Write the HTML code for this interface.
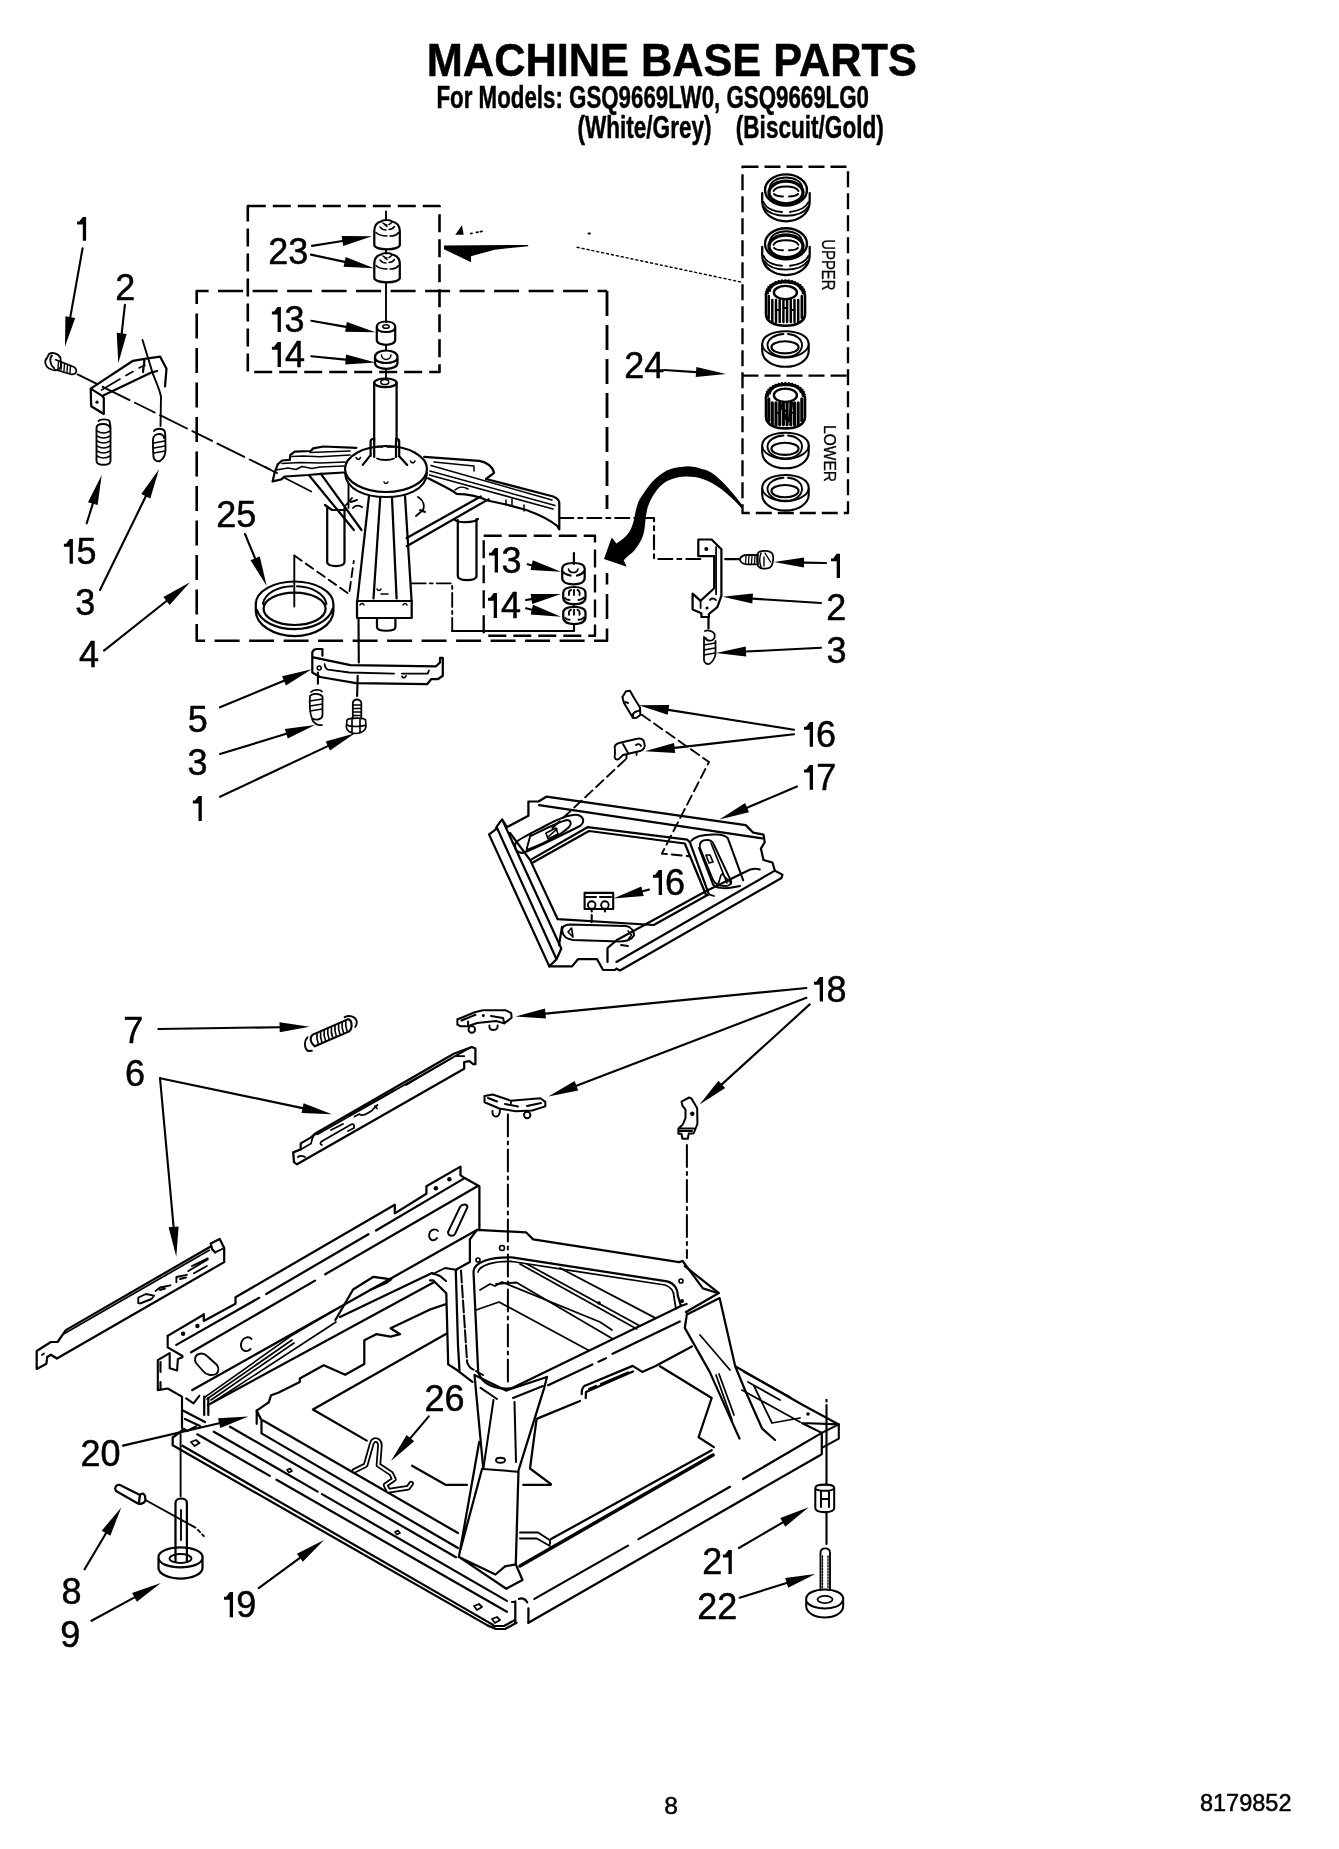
<!DOCTYPE html>
<html><head><meta charset="utf-8"><style>
html,body{margin:0;padding:0;background:#fff;}
body{width:1339px;height:1849px;overflow:hidden;}
svg{position:absolute;left:0;top:0;will-change:transform;}
svg text{font-family:"Liberation Sans",sans-serif;fill:#000;stroke:#000;stroke-width:0.5px;}
.f{fill:#000;stroke:none;}
</style></head><body>
<svg width="1339" height="1849" viewBox="0 0 1339 1849" fill="none" stroke="#000" stroke-width="2.24" stroke-linejoin="round" stroke-linecap="round">
<path class="f" d="M82.8,217.1H86.1V240.8H82.8V224.4H77.1V221.6H79.3Z"/>
<text x="115.3" y="299.9" font-size="36">2</text>
<text x="268.2" y="264.0" font-size="36">23</text>
<path class="f" d="M277.6,306.9H280.9V331.9H277.6V314.6H271.9V311.6H274.1Z"/>
<text x="284.4" y="331.9" font-size="36">3</text>
<path class="f" d="M277.6,341.9H280.9V367.0H277.6V349.7H271.9V346.7H274.1Z"/>
<text x="285.0" y="367.0" font-size="36">4</text>
<text x="624.3" y="377.9" font-size="36">24</text>
<text x="216.3" y="526.9" font-size="36">25</text>
<path class="f" d="M69.6,539.1H72.9V563.7H69.6V546.7H63.9V543.8H66.1Z"/>
<text x="76.5" y="563.7" font-size="36">5</text>
<text x="75.3" y="614.8" font-size="36">3</text>
<text x="79.1" y="667.1" font-size="36">4</text>
<path class="f" d="M494.7,548.0H498.0V572.5H494.7V555.6H489.0V552.7H491.2Z"/>
<text x="501.5" y="572.5" font-size="36">3</text>
<path class="f" d="M493.7,593.1H497.0V617.9H493.7V600.8H488.0V597.8H490.2Z"/>
<text x="501.1" y="617.9" font-size="36">4</text>
<path class="f" d="M836.7,553.8H840.0V578.1H836.7V561.3H831.0V558.4H833.2Z"/>
<text x="826.3" y="620.0" font-size="36">2</text>
<text x="826.5" y="662.9" font-size="36">3</text>
<text x="187.7" y="731.8" font-size="36">5</text>
<text x="187.6" y="774.7" font-size="36">3</text>
<path class="f" d="M198.5,795.9H201.8V820.9H198.5V803.6H192.8V800.6H195.0Z"/>
<path class="f" d="M809.7,722.1H813.0V746.7H809.7V729.7H804.0V726.8H806.2Z"/>
<text x="816.1" y="746.7" font-size="36">6</text>
<path class="f" d="M809.7,764.9H813.0V789.7H809.7V772.6H804.0V769.6H806.2Z"/>
<text x="816.3" y="789.7" font-size="36">7</text>
<path class="f" d="M658.7,870.0H662.0V894.9H658.7V877.7H653.0V874.7H655.2Z"/>
<text x="665.1" y="894.9" font-size="36">6</text>
<path class="f" d="M819.7,977.1H823.0V1001.5H819.7V984.7H814.0V981.7H816.2Z"/>
<text x="826.5" y="1001.5" font-size="36">8</text>
<text x="123.3" y="1042.8" font-size="36">7</text>
<text x="125.1" y="1085.8" font-size="36">6</text>
<text x="80.4" y="1465.8" font-size="36">20</text>
<text x="424.4" y="1411.0" font-size="36">26</text>
<text x="61.5" y="1603.8" font-size="36">8</text>
<text x="60.2" y="1646.8" font-size="36">9</text>
<path class="f" d="M229.7,1591.9H233.0V1617.3H229.7V1599.8H224.0V1596.7H226.2Z"/>
<text x="236.3" y="1617.3" font-size="36">9</text>
<text x="702.3" y="1574.0" font-size="36">2</text>
<path class="f" d="M728.5,1549.9H731.8V1574.0H728.5V1557.4H722.8V1554.5H725.0Z"/>
<text x="697.3" y="1618.9" font-size="36">22</text>
<text x="426.8" y="75.8" font-size="45.4" font-weight="bold" textLength="490" lengthAdjust="spacingAndGlyphs">MACHINE BASE PARTS</text>
<text x="436.5" y="108.3" font-size="31.5" font-weight="bold" textLength="432.5" lengthAdjust="spacingAndGlyphs">For Models: GSQ9669LW0, GSQ9669LG0</text>
<text x="577.5" y="137.6" font-size="31.5" font-weight="bold" textLength="134" lengthAdjust="spacingAndGlyphs">(White/Grey)</text>
<text x="735.8" y="137.6" font-size="31.5" font-weight="bold" textLength="148" lengthAdjust="spacingAndGlyphs">(Biscuit/Gold)</text>
<text x="664.2" y="1813.6" font-size="24.6" textLength="13.7" lengthAdjust="spacingAndGlyphs">8</text>
<text x="1199.9" y="1810.8" font-size="24.4" textLength="91.6" lengthAdjust="spacingAndGlyphs">8179852</text>
<rect x="247.8" y="206" width="191.7" height="166" stroke-width="2.60" stroke-dasharray="18 7" stroke-linecap="butt"/>
<path d="M607,291H196.7V640.7H607V573" stroke-width="2.60" stroke-dasharray="25 9.5" stroke-dashoffset="15.6" stroke-linecap="butt"/>
<path d="M607,291V509" stroke-width="2.83" stroke-dasharray="25 9" stroke-linecap="butt"/>
<rect x="483.7" y="535.7" width="111.3" height="100" stroke-width="2.36" stroke-dasharray="18 7" stroke-linecap="butt"/>
<path d="M742.5,166.7H848V513H742.5Z M742.5,375.6H848" stroke-width="2.36" stroke-dasharray="16 6" stroke-linecap="butt"/>
<line x1="82.6" y1="248.3" x2="70.3" y2="317.1" stroke-width="2.12"/>
<polygon class="f" points="65.4,316.2 65.0,346.6 75.2,318.0"/>
<line x1="124.9" y1="304.9" x2="121.7" y2="333.4" stroke-width="2.12"/>
<polygon class="f" points="116.7,332.8 118.3,363.2 126.6,334.0"/>
<line x1="312.0" y1="245.9" x2="342.4" y2="241.0" stroke-width="2.12"/>
<polygon class="f" points="343.2,246.0 372.0,236.3 341.6,236.1"/>
<line x1="311.0" y1="254.6" x2="344.7" y2="261.9" stroke-width="2.12"/>
<polygon class="f" points="343.6,266.8 374.0,268.3 345.7,257.0"/>
<line x1="311.3" y1="320.7" x2="346.0" y2="326.9" stroke-width="2.12"/>
<polygon class="f" points="345.1,331.8 375.5,332.2 346.9,322.0"/>
<line x1="311.3" y1="356.2" x2="345.6" y2="359.6" stroke-width="2.12"/>
<polygon class="f" points="345.2,364.5 375.5,362.5 346.1,354.6"/>
<line x1="664.0" y1="370.0" x2="696.1" y2="372.1" stroke-width="2.12"/>
<polygon class="f" points="695.7,377.1 726.0,374.0 696.4,367.1"/>
<line x1="245.0" y1="534.0" x2="255.1" y2="558.3" stroke-width="2.12"/>
<polygon class="f" points="250.5,560.2 266.7,586.0 259.8,556.4"/>
<line x1="86.7" y1="523.3" x2="92.8" y2="503.7" stroke-width="2.12"/>
<polygon class="f" points="97.6,505.1 101.7,475.0 88.0,502.2"/>
<line x1="100.0" y1="590.0" x2="145.8" y2="496.3" stroke-width="2.12"/>
<polygon class="f" points="150.3,498.4 159.0,469.3 141.3,494.1"/>
<line x1="104.0" y1="650.7" x2="166.5" y2="601.0" stroke-width="2.12"/>
<polygon class="f" points="169.6,604.9 190.0,582.3 163.4,597.1"/>
<line x1="527.7" y1="564.3" x2="531.7" y2="565.2" stroke-width="2.12"/>
<polygon class="f" points="530.6,570.1 561.0,571.7 532.8,560.3"/>
<line x1="526.0" y1="600.0" x2="531.4" y2="599.1" stroke-width="2.12"/>
<polygon class="f" points="532.3,604.0 561.0,594.0 530.6,594.1"/>
<line x1="526.0" y1="608.3" x2="531.8" y2="609.7" stroke-width="2.12"/>
<polygon class="f" points="530.7,614.6 561.0,616.7 533.0,604.8"/>
<line x1="826.0" y1="563.0" x2="804.0" y2="562.6" stroke-width="2.12"/>
<polygon class="f" points="804.1,557.6 774.0,562.0 803.9,567.6"/>
<line x1="821.0" y1="603.0" x2="752.6" y2="598.6" stroke-width="2.12"/>
<polygon class="f" points="753.0,593.6 722.7,596.7 752.3,603.6"/>
<line x1="821.0" y1="647.7" x2="746.0" y2="651.5" stroke-width="2.12"/>
<polygon class="f" points="745.7,646.5 716.0,653.0 746.2,656.5"/>
<line x1="220.0" y1="707.3" x2="284.0" y2="680.8" stroke-width="2.12"/>
<polygon class="f" points="285.9,685.4 311.7,669.3 282.1,676.2"/>
<line x1="220.0" y1="754.0" x2="286.3" y2="733.8" stroke-width="2.12"/>
<polygon class="f" points="287.8,738.5 315.0,725.0 284.8,729.0"/>
<line x1="220.0" y1="796.7" x2="327.8" y2="746.1" stroke-width="2.12"/>
<polygon class="f" points="330.0,750.6 355.0,733.3 325.7,741.5"/>
<line x1="794.0" y1="729.7" x2="668.4" y2="709.9" stroke-width="2.12"/>
<polygon class="f" points="669.2,704.9 638.8,705.2 667.7,714.8"/>
<line x1="794.0" y1="734.2" x2="674.6" y2="747.9" stroke-width="2.12"/>
<polygon class="f" points="674.0,742.9 644.8,751.3 675.2,752.9"/>
<line x1="797.0" y1="786.5" x2="747.0" y2="807.7" stroke-width="2.12"/>
<polygon class="f" points="745.1,803.1 719.4,819.4 749.0,812.3"/>
<line x1="649.0" y1="889.6" x2="642.5" y2="891.2" stroke-width="2.12"/>
<polygon class="f" points="641.3,886.4 613.4,898.5 643.7,896.1"/>
<line x1="806.4" y1="988.0" x2="545.5" y2="1013.6" stroke-width="2.12"/>
<polygon class="f" points="545.0,1008.6 515.6,1016.5 545.9,1018.6"/>
<line x1="806.4" y1="997.8" x2="576.4" y2="1085.7" stroke-width="2.12"/>
<polygon class="f" points="574.6,1081.0 548.4,1096.4 578.2,1090.4"/>
<line x1="809.7" y1="1004.4" x2="721.8" y2="1084.4" stroke-width="2.12"/>
<polygon class="f" points="718.4,1080.7 699.6,1104.6 725.2,1088.1"/>
<line x1="158.4" y1="1029.0" x2="279.6" y2="1027.2" stroke-width="2.12"/>
<polygon class="f" points="279.7,1032.2 309.6,1026.7 279.5,1022.2"/>
<line x1="160.1" y1="1078.2" x2="302.5" y2="1108.1" stroke-width="2.12"/>
<polygon class="f" points="301.5,1113.0 331.9,1114.3 303.6,1103.2"/>
<line x1="160.0" y1="1078.0" x2="173.6" y2="1226.8" stroke-width="2.12"/>
<polygon class="f" points="168.6,1227.3 176.3,1256.7 178.6,1226.4"/>
<line x1="123.0" y1="1445.6" x2="219.2" y2="1423.2" stroke-width="2.12"/>
<polygon class="f" points="220.3,1428.1 248.4,1416.4 218.0,1418.3"/>
<line x1="428.8" y1="1416.4" x2="410.4" y2="1438.1" stroke-width="2.12"/>
<polygon class="f" points="406.6,1434.9 391.0,1461.0 414.2,1441.3"/>
<line x1="84.6" y1="1569.3" x2="106.0" y2="1533.3" stroke-width="2.12"/>
<polygon class="f" points="110.3,1535.8 121.3,1507.5 101.7,1530.7"/>
<line x1="91.5" y1="1620.8" x2="134.5" y2="1597.4" stroke-width="2.12"/>
<polygon class="f" points="136.9,1601.8 160.8,1583.0 132.1,1593.0"/>
<line x1="258.7" y1="1588.2" x2="299.9" y2="1557.8" stroke-width="2.12"/>
<polygon class="f" points="302.8,1561.8 324.0,1540.0 296.9,1553.8"/>
<line x1="738.9" y1="1548.0" x2="782.8" y2="1522.4" stroke-width="2.12"/>
<polygon class="f" points="785.3,1526.7 808.7,1507.3 780.3,1518.1"/>
<line x1="739.7" y1="1597.7" x2="786.7" y2="1582.9" stroke-width="2.12"/>
<polygon class="f" points="788.2,1587.7 815.3,1573.9 785.2,1578.1"/>
<g transform="translate(0,0)"><path d="M374.3,231 C374.3,226 377,222.5 381,221.5 C382,220.5 384,220 386.5,220 C389,220 391,220.5 392,221.5 C396.5,222.5 399.8,226 399.8,231 V245 C399.8,247.5 394,249.3 387,249.3 C380,249.3 374.3,247.5 374.3,245 Z"/><path d="M376,232.5 C379,235.5 383,236 387,236 M390,236 C393,236 397,235 398.5,232.5 M380,227 C382,229.5 384,230 386,230 M389,229.5 C391,229.5 393,228.5 394.5,226.5 M383,223 C384.5,224.5 386,225 387,225 M389,224.5 C390,224 391,223.5 391.5,222.5" stroke-width="1.53"/><path d="M385,225 L387,226.5" stroke-width="1.53"/></g>
<g transform="translate(0,33)"><path d="M374.3,231 C374.3,226 377,222.5 381,221.5 C382,220.5 384,220 386.5,220 C389,220 391,220.5 392,221.5 C396.5,222.5 399.8,226 399.8,231 V245 C399.8,247.5 394,249.3 387,249.3 C380,249.3 374.3,247.5 374.3,245 Z"/><path d="M376,232.5 C379,235.5 383,236 387,236 M390,236 C393,236 397,235 398.5,232.5 M380,227 C382,229.5 384,230 386,230 M389,229.5 C391,229.5 393,228.5 394.5,226.5 M383,223 C384.5,224.5 386,225 387,225 M389,224.5 C390,224 391,223.5 391.5,222.5" stroke-width="1.53"/><path d="M385,225 L387,226.5" stroke-width="1.53"/></g>
<path d="M386,211.5V220 M386,249.5V253.5 M386,282.5V322 M386,345V350 M386,369V378" stroke-width="1.89"/>
<path d="M376.8,327 C376.8,323.5 381,321.5 386,321.5 C391,321.5 395.2,323.5 395.2,327 V340 C395.2,343 391,344.8 386,344.8 C381,344.8 376.8,343 376.8,340 Z M376.8,327 C376.8,330.5 381,332 386,332 C391,332 395.2,330.5 395.2,327"/>
<ellipse cx="386" cy="326.5" rx="3.2" ry="1.8" stroke-width="1.53"/>
<path d="M375,357 C375,353 380,350.5 386.2,350.5 C392.5,350.5 397.5,353 397.5,357 V363 C397.5,366.5 392.5,368.8 386.2,368.8 C380,368.8 375,366.5 375,363 Z M375,357.5 C375,361 380,363 386.2,363 C392.5,363 397.5,361 397.5,357.5"/>
<path d="M381.5,355 C382,358.5 384,359.5 386.2,359.5 C388.5,359.5 390.5,358.5 391,355" stroke-width="1.53"/>
<path d="M374.2,383 V441 M396.6,383 V441"/>
<ellipse cx="385.4" cy="382.8" rx="11.2" ry="4.3"/>
<ellipse cx="384.8" cy="382" rx="4" ry="2.6" stroke-width="1.53"/>
<path d="M370.6,456 V441.5 C370.6,439.5 372,438.8 374.2,438.9 M396,438.9 C398,438.8 399.2,439.5 399.2,441.5 V456.5 M374.2,441 V457 M396,441 V457 M370.4,455.4 L362.8,464.9 M399,456 L407.2,464.9"/>
<path d="M375.5,446.8 H382.5 M387,446.8 H394.5 M377,458.5 C381,460.5 390,460.5 394,458.5" stroke-width="1.77"/>
<path d="M356,457.5 C357,460 359.5,460 360.5,457.5 M410.5,461 C411.5,463.5 414,463.5 415,461" stroke-width="1.65"/>
<ellipse cx="386" cy="469" rx="41" ry="23"/>
<path d="M345,473 C346,490 366,497 386,497 C406,497 426,490 427,473" stroke-width="2.12"/>
<path d="M384,482 C385,484 387,484 388,482" stroke-width="1.53"/>
<path d="M369,496 L357.3,601 M405,496 L411.6,601 M380.2,498 L373.5,598.5 M392,498 L396.6,598.5"/>
<path d="M357,601 H411.7 V618 H357 Z" />
<path d="M377,618 V627 C377,632 395.4,632 395.4,627 V618"/>
<path d="M360,605 C361,603 363,603 364,605 M403,605 C404,603 406,603 407,605 M377,589 C378,591 380,591 381,589 M381,594 H388" stroke-width="1.53"/>
<path d="M343.5,472.5 L320.9,473.8 L308.2,475 L285,476.5 L281,479.5 L272.6,481.4 L274.5,473.2 L277.7,464.3 L282.1,460.5 L289.8,459.8 L290.4,454.8 L294.8,451.6 L310.7,451 L313.2,448.4 L323.4,446.5 L356.4,447.8"/>
<path d="M276,470 L288,468 L296,469.5 L302,466.5 L312,468.5 L320,467 L344,466 M282,463.5 L300,462.5 L320,463 L345,462 M292,456.5 L303,456 L320,456.8 L350,455 M310,452.5 L350,451" stroke-width="1.65"/>
<path d="M274.5,471.9 L265,466.8 M285.3,478.2 L311.3,491.6" stroke-width="1.65"/>
<path d="M309.4,475.7 L353.9,530 M320.9,473.8 L361.5,530" />
<path d="M327.2,508 V562 C327.2,567.5 344.5,567.5 344.5,562 V508 M325,505 L332,510 L346,510"/>
<path d="M348.5,483 V508 M346,505 L352,498 M351,502 L357,500 M353,508 C355,505 358,505 362,507 M418,497 C423,500 425,505 423,510 L416,516 M420,510 L425,512" stroke-width="1.89"/>
<path d="M424.2,456.8 L479.3,460.8 C487,462 493,467 494.1,472.9 L486,479 M486,479 L553.2,496.5 C557,498 559.3,500 559.3,503.2 V529.5 L557.3,526 C550,520 540,515 526.4,510 L506.2,504.5 L487.4,500.5 C480,497 470,494 456.5,493.8 C452,490 445,487 428.2,478.3" />
<path d="M431,465.5 L552,500 M430,471 L555,505.5 M429.5,475 L553,509 M434,462 L474,466 L474,471" stroke-width="1.53"/>
<path d="M455,490 C458,487 463,486 468,489 M506,500 V505 M512,499 V506 M524,505 V511" stroke-width="1.53"/>
<path d="M406.7,538.1 L480.7,496.5 M406.7,546.2 L488.7,499.1"/>
<path d="M457.8,520 V576 C457.8,581.5 476.5,581.5 476.5,576 V519 M455,520 C458,523 474,523 478,519"/>
<path d="M559.3,518 H654 V559 H702" stroke-width="2.12" stroke-dasharray="14 5 4 5"/>
<path d="M47,358 C44,361 45,366 49,368.5 L53,370 C57,371 60,369 61,366 L60.5,358 C58,353 52,352 49,354 Z" stroke-width="1.77"/>
<path d="M52,355.5 C49,358 50,365 54,368 M55.7,359.8 L73.5,366.8 C76,368 77,371 76,372.5 C75,374 73,374.5 71.4,374.4 L55,369.5" stroke-width="1.77"/>
<path d="M58.5,362 L58,368.5 M61.5,363 L61,369.5 M64.5,364 L64,370.5 M67.5,365 L67,371.5 M70.5,366 L70,372.5" stroke-width="1.42"/>
<path d="M77.6,374.4 L277,473" stroke-width="1.89" stroke-dasharray="22 6 30 6"/>
<path d="M90.7,388.6 L91.2,406.3 L103.8,414 L103.8,398 L102.2,395.9 Z M90.7,388.6 L133,360.8 L144.6,358.8 L160.2,356.7 L166.5,368.7 L165,386.5 M102.2,395.9 L151.9,372.3 L157,371 M144.6,358.8 L143,372"/>
<path d="M101.5,390 L120,379 M126,375.5 L133,371.5 M139,368 L145,365" stroke-width="1.65"/>
<circle cx="97" cy="402.2" r="1.6" class="f"/>
<path d="M142.5,340 L152.9,373.9 C156,382 160,390 161,397 L160.5,426" stroke-width="1.89"/>
<path d="M98.5,421 C100,418.8 108,418.8 109.5,421 L110.5,427 V461 C110.5,466 96.5,466 96.5,461 V428 C96.5,425 99,424 103,424 C107,424 110,426 110,428" stroke-width="1.89"/>
<path d="M97,431 C101,433.5 106,433.5 110,431 M97,436 C101,438.5 106,438.5 110,436 M97,441 C101,443.5 106,443.5 110,441 M97,446 C101,448.5 106,448.5 110,446 M97,451 C101,453.5 106,453.5 110,451 M97,456 C101,458.5 106,458.5 110,456" stroke-width="1.53"/>
<path d="M154,431 C156,428 163,428 164.5,431 C166,434 165,440 165.5,446 C166,452 165,458 160,461 C157,462 154,460 153.5,457 C153,452 153,446 153,440 C153,436 156,434 159,434 C162,434 164,436 164,438" stroke-width="1.89"/>
<path d="M154,443 L164.5,441 M154,448 L165,446 M154,453 L165,451" stroke-width="1.53"/>
<path d="M698.3,539.5 H711.6 L721.4,549.3 V595.9 L717.3,607.2 L708.9,614 V617 H701.4 V613.3 L692.6,609.5 V593.6 L700.6,600.8 L714.2,588.3 V556.1 H698.3 Z"/>
<path d="M716.1,547 V594.3 M700.6,600.8 V608 M710,600 C711,598 714,598 716,600" stroke-width="1.77"/>
<circle cx="706.3" cy="548.9" r="2" class="f"/><circle cx="707" cy="608" r="1.6" class="f"/>
<path d="M708.5,617 V628.4"/>
<path d="M725.2,559.1 H739.6"/>
<path d="M739.6,559.5 C741,556 744,555 747,555 H757.8 V564.4 H747 C744,564.4 741,563 739.6,559.5 Z" stroke-width="1.77"/>
<path d="M746,556 L745.5,563.5 M749,556 L748.5,563.5 M752,556 L751.5,563.5 M755,556 L754.5,563.5" stroke-width="1.30"/>
<path d="M758,553 C760,550 770,550 772.5,554 C774,558 773,565 770,567.5 C766,569.5 760,569 758,566 C757,562 757,556 758,553 Z" stroke-width="1.77"/>
<path d="M761,553 C759.5,557 759.5,563 761,567 M765,553 L770.5,562 M764,557 L764,566" stroke-width="1.42"/>
<path d="M705,631 C708,629.5 713,631 714.5,634 C715.5,637 714,640 711.5,640.5 C709,641 706.5,640 705.5,638 M704,637 V660 C704,663 707,664.5 709,664 C712,663 715,658 715.5,654 V641" stroke-width="1.77"/>
<path d="M704,645 L715,643 M704,650 L715,648 M704,655 L715,653" stroke-width="1.42"/>
<path d="M312.3,672.5 V652.3 C313,650 315,649 317,649 H322.4 V655.7 M313.4,657.4 L350.4,665.2 L436.1,666.3 L440,662.4 V657.9 H442.8 V675.8 L437.8,679.2 H431.1 L427.1,684.2 L356,683.1 L320.2,677 L312.3,672.5"/>
<path d="M324.6,664.1 C325,667 326,669 328,669.7 L349.3,672.5 L394.1,673.6 M401.9,673.6 H427.7 L429,670.5 M402,676.5 C403,678.5 405,678 406,676" stroke-width="1.77"/>
<circle cx="319.2" cy="668" r="2" stroke-width="1.53"/>
<path d="M358.5,618 L358.8,662.4 M357.7,675.8 L357.1,696 M317.9,672.5 V683.7" stroke-width="2.12"/>
<path d="M311,692 C313,689.5 320,689 322,691.5 M310,696 C312,693 320,693 322.5,696.5 V715 C322.5,719 317,721 312.5,718.5 C309.5,716 309.5,700 310,696 M312,719 C313,723 318,726 322,725" stroke-width="1.77"/>
<path d="M310,701 L322.5,699 M310,706 L322.5,704 M310,711 L322.5,709" stroke-width="1.42"/>
<path d="M352.8,718.5 V702.5 C353.5,700.5 355,699.5 357,699.5 C359,699.5 360.5,700.5 361.3,702.5 V718.5" stroke-width="1.77"/>
<path d="M353,705 H361 M353,708.5 H361 M353,712 H361 M353,715.5 H361" stroke-width="1.30"/>
<path d="M347,720 C349,717.5 364,717.5 365.5,720 L366,726 C366,731 360,733.5 356,733.5 C351,733.5 346.5,731 346.3,727 Z M347,725 C350,727 362,727 365.5,725 M352,718 V733 M360,718 V733" stroke-width="1.65"/>
<path d="M255.8,604 C256,591 274,581.5 294.6,581.5 C315,581.5 333.2,591 333.4,604 V611 C333.2,625 315,636.1 294.6,636.1 C274,636.1 256,625 255.8,611 Z"/>
<path d="M257,610 C260,621 276,629.2 294.6,629.2 C313,629.2 329,621 332.5,609"/>
<ellipse cx="294.6" cy="608.8" rx="31" ry="16.2"/>
<path d="M263,604 C264.5,593.5 278,586.4 292.5,586.2 M297,586.2 C311,586.5 325,593.5 326.4,604" stroke-width="2.01"/>
<path d="M294.3,606.6 V555.6" stroke-width="1.89"/>
<path d="M294.3,555.6 L349.1,594 L353.8,561" stroke-width="1.89" stroke-dasharray="9 5"/>
<path d="M411.7,583.4 H452.2 V631" stroke-width="1.89" stroke-dasharray="14 4 3 4"/>
<path d="M573.9,553 V564"/>
<path d="M562.2,569 C562.2,565 567,563 573.5,563 C580,563 584.7,565 584.7,569 V578 C584.7,582 580,584.3 573.5,584.3 C567,584.3 562.2,582 562.2,578 Z M562.2,571 C564,574 568,575 570.5,575.5 M577,575.5 C580,575 583,573 584.7,571" />
<path d="M568.5,569 C569,572 571,572.5 573.5,572.5 C576,572.5 577.5,571.5 578,569" stroke-width="1.65"/>
<path d="M563.2,593.0 C563.2,588.5 568,587.0 574.2,587.0 C580.5,587.0 585.5,589.0 585.5,593.0 V597.0 C585.5,602.0 580.5,604.2 574.2,604.2 C568,604.2 563.2,602.0 563.2,597.0 Z" />
<path d="M569,595.0 C568.5,592.0 569.5,590.5 571,590.0 M579.5,595.0 C580,592.0 579,590.5 577.5,590.0 M574,590.0 V595.0 M565,598.0 C566,599.5 568,600.0 569.5,600.0 M578.5,600.0 C580.5,600.0 582.5,599.0 584,597.5" stroke-width="1.89"/>
<path d="M563.2,612.8 C563.2,608.3 568,606.8 574.2,606.8 C580.5,606.8 585.5,608.8 585.5,612.8 V616.8 C585.5,621.8 580.5,624.0 574.2,624.0 C568,624.0 563.2,621.8 563.2,616.8 Z" />
<path d="M569,614.8 C568.5,611.8 569.5,610.3 571,609.8 M579.5,614.8 C580,611.8 579,610.3 577.5,609.8 M574,609.8 V614.8 M565,617.8 C566,619.3 568,619.8 569.5,619.8 M578.5,619.8 C580.5,619.8 582.5,618.8 584,617.3" stroke-width="1.89"/>
<path d="M574,604.2 V606.8 M574,624 V631 H452.2" stroke-width="2.12"/>
<g transform="translate(0,0)"><ellipse cx="786" cy="190" rx="21" ry="15.6" stroke-width="2.36"/><path d="M769.5,189 C770,181 778,177.5 786,177.5 C794,177.5 802,181 802.5,189" stroke-width="1.89"/><ellipse cx="786" cy="192.5" rx="17" ry="11.3" stroke-width="3.30"/><path d="M773.5,191 C775,188 780,186.5 786,186.5 C792,186.5 797,188 798.5,191 M774,194 C776,196 780,196.5 783,196.5 M789,196.5 C792,196.5 796,196 798,194" stroke-width="1.89"/><path d="M762.2,193 V202 C762.5,214 774,221.3 786,221.3 C798,221.3 809.5,214 809.7,202 V193" stroke-width="2.24"/><path d="M763.5,202 C766,209 776,212 782,212 M790,212 C797,211 806,208 808.5,202 M764,207 C768,213 777,215.8 786,215.8 C795,215.8 804,213 808,207" stroke-width="1.89"/></g>
<g transform="translate(0,53.8)"><ellipse cx="786" cy="190" rx="21" ry="15.6" stroke-width="2.36"/><path d="M769.5,189 C770,181 778,177.5 786,177.5 C794,177.5 802,181 802.5,189" stroke-width="1.89"/><ellipse cx="786" cy="192.5" rx="17" ry="11.3" stroke-width="3.30"/><path d="M773.5,191 C775,188 780,186.5 786,186.5 C792,186.5 797,188 798.5,191 M774,194 C776,196 780,196.5 783,196.5 M789,196.5 C792,196.5 796,196 798,194" stroke-width="1.89"/><path d="M762.2,193 V202 C762.5,214 774,221.3 786,221.3 C798,221.3 809.5,214 809.7,202 V193" stroke-width="2.24"/><path d="M763.5,202 C766,209 776,212 782,212 M790,212 C797,211 806,208 808.5,202 M764,207 C768,213 777,215.8 786,215.8 C795,215.8 804,213 808,207" stroke-width="1.89"/></g>
<g transform="translate(0,0)"><path d="M766,297 L765.9,294.0 L767.9,292.9 L766.2,291.7 L768.4,290.9 L767.1,289.4 L769.5,288.9 L768.5,287.2 L771.0,287.0 L770.5,285.3 L773.0,285.4 L772.9,283.7 L775.3,284.0 L775.6,282.3 L778.0,283.0 L778.7,281.3 L780.9,282.3 L782.0,280.7 L783.9,281.9 L785.4,280.5 L786.9,281.9 L788.8,280.7 L789.9,282.3 L792.1,281.3 L792.8,283.0 L795.1,282.3 L795.5,284.0 L797.9,283.7 L797.8,285.4 L800.3,285.3 L799.8,287.0 L802.3,287.2 L801.3,288.9 L803.7,289.4 L802.4,290.9 L804.6,291.7 L802.9,292.9 L804.9,294.0 L805,297 V314 C805,321.5 797,325.7 785.4,325.7 C774,325.7 766,321.5 766,314 Z" stroke-width="2.60"/><ellipse cx="785.4" cy="292.6" rx="11.5" ry="6.7" stroke-width="2.36"/><path d="M770,291 C771,285 777,282.5 785.4,282.5 C794,282.5 800,285 801,291" stroke-width="1.89" stroke-dasharray="2 1.5"/><path d="M768.8,296 V318" stroke-width="2.48"/><path d="M772.3,300 V322" stroke-width="2.48"/><path d="M776,300 V322" stroke-width="2.48"/><path d="M779.7,300 V322" stroke-width="2.48"/><path d="M783.4,300 V322" stroke-width="2.48"/><path d="M787.1,300 V322" stroke-width="2.48"/><path d="M790.8,300 V322" stroke-width="2.48"/><path d="M794.5,300 V322" stroke-width="2.48"/><path d="M798.2,300 V322" stroke-width="2.48"/><path d="M801.8,296 V318" stroke-width="2.48"/><path d="M776,310 H779.7 M783.4,308 H787.1 M790.8,310 H794.5" stroke-width="2.12"/></g>
<g transform="translate(0,102.7)"><path d="M766,297 L765.9,294.0 L767.9,292.9 L766.2,291.7 L768.4,290.9 L767.1,289.4 L769.5,288.9 L768.5,287.2 L771.0,287.0 L770.5,285.3 L773.0,285.4 L772.9,283.7 L775.3,284.0 L775.6,282.3 L778.0,283.0 L778.7,281.3 L780.9,282.3 L782.0,280.7 L783.9,281.9 L785.4,280.5 L786.9,281.9 L788.8,280.7 L789.9,282.3 L792.1,281.3 L792.8,283.0 L795.1,282.3 L795.5,284.0 L797.9,283.7 L797.8,285.4 L800.3,285.3 L799.8,287.0 L802.3,287.2 L801.3,288.9 L803.7,289.4 L802.4,290.9 L804.6,291.7 L802.9,292.9 L804.9,294.0 L805,297 V314 C805,321.5 797,325.7 785.4,325.7 C774,325.7 766,321.5 766,314 Z" stroke-width="2.60"/><ellipse cx="785.4" cy="292.6" rx="11.5" ry="6.7" stroke-width="2.36"/><path d="M770,291 C771,285 777,282.5 785.4,282.5 C794,282.5 800,285 801,291" stroke-width="1.89" stroke-dasharray="2 1.5"/><path d="M768.8,296 V318" stroke-width="3.07"/><path d="M772.3,300 V322" stroke-width="3.07"/><path d="M776,300 V322" stroke-width="3.07"/><path d="M779.7,300 V322" stroke-width="3.07"/><path d="M783.4,300 V322" stroke-width="3.07"/><path d="M787.1,300 V322" stroke-width="3.07"/><path d="M790.8,300 V322" stroke-width="3.07"/><path d="M794.5,300 V322" stroke-width="3.07"/><path d="M798.2,300 V322" stroke-width="3.07"/><path d="M801.8,296 V318" stroke-width="3.07"/><path d="M776,310 H779.7 M783.4,308 H787.1 M790.8,310 H794.5" stroke-width="2.12"/><path d="M781,302 L786,316 M792,300 L789,318" stroke-width="2.60"/></g>
<g transform="translate(0,0)"><path d="M762.2,344 C762.2,336 773,331.2 785.5,331.2 C798,331.2 808.7,336 808.7,344 V351 C808.7,360 798,366.8 785.5,366.8 C773,366.8 762.2,360 762.2,351 Z" stroke-width="2.12"/><path d="M762.2,345 C763,351 772,357 785.5,357.5 C799,357 808,351 808.7,345" stroke-width="1.89"/><path d="M767.5,345 C767.5,339 775,334.3 783.5,334 M788,334 C796,334.5 802,339 802,345 C802,352 795,357 785.5,357 C776,357 767.5,352 767.5,345" stroke-width="1.89"/><ellipse cx="785" cy="347.3" rx="13.6" ry="6.1" stroke-width="2.12"/></g>
<g transform="translate(0,101.5)"><path d="M762.2,344 C762.2,336 773,331.2 785.5,331.2 C798,331.2 808.7,336 808.7,344 V351 C808.7,360 798,366.8 785.5,366.8 C773,366.8 762.2,360 762.2,351 Z" stroke-width="2.12"/><path d="M762.2,345 C763,351 772,357 785.5,357.5 C799,357 808,351 808.7,345" stroke-width="1.89"/><path d="M767.5,345 C767.5,339 775,334.3 783.5,334 M788,334 C796,334.5 802,339 802,345 C802,352 795,357 785.5,357 C776,357 767.5,352 767.5,345" stroke-width="1.89"/><ellipse cx="785" cy="347.3" rx="13.6" ry="6.1" stroke-width="2.12"/></g>
<g transform="translate(0,143.8)"><path d="M762.2,344 C762.2,336 773,331.2 785.5,331.2 C798,331.2 808.7,336 808.7,344 V351 C808.7,360 798,366.8 785.5,366.8 C773,366.8 762.2,360 762.2,351 Z" stroke-width="2.12"/><path d="M762.2,345 C763,351 772,357 785.5,357.5 C799,357 808,351 808.7,345" stroke-width="1.89"/><path d="M767.5,345 C767.5,339 775,334.3 783.5,334 M788,334 C796,334.5 802,339 802,345 C802,352 795,357 785.5,357 C776,357 767.5,352 767.5,345" stroke-width="1.89"/><ellipse cx="785" cy="347.3" rx="13.6" ry="6.1" stroke-width="2.12"/></g>
<text transform="translate(822.3,239.2) rotate(90)" font-size="17.5" textLength="51.4" lengthAdjust="spacingAndGlyphs" style="stroke-width:0.3px">UPPER</text>
<text transform="translate(823.8,425) rotate(90)" font-size="17" textLength="57" lengthAdjust="spacingAndGlyphs" style="stroke-width:0.3px">LOWER</text>
<path class="f" d="M743.2,506.4 C737,498 730,490 726.4,486.1 C718,477 710,470 702.5,469.3 C696,467 691,466.2 685.8,466.4 C678,466.8 672,468 666.7,470.5 C659,475 653,480 648.8,486.1 C644,493 640,498 638,502.8 C636,509 635,514 634.4,518.3 C633,524 631.5,528 629.7,531.5 C626,537 621,540.5 616.5,543.4 L611.7,537.4 L604,559 L626.7,566.7 L623.7,560.2 C628,556 631.5,553.5 634.4,550.6 C638,546 641,541 642.8,536.3 C644.5,531 645,526 645.2,521.9 C645.8,517 646.5,512 647.6,507.6 C649.5,502 651.5,497.5 654.7,493.2 C658,488 662,484 666.7,481.3 C672,478.5 678,477 684.6,476.5 C691,476.3 697,477 702.5,478.9 C709,481 715,484.5 720.5,488.5 C728,494 735,501 742,508.8 Z"/>
<path class="f" d="M444,245.4 L528.2,245 L528.2,246.2 L494.7,249.7 L471,256.2 L471,262.2 L444,249.2 Z"/>
<path class="f" d="M455.3,234.8 L461.9,225.2 L463.7,234.8 Z"/>
<path d="M470.8,233.5 L472,233.3 M476.5,232.4 L478,232.2 M480.5,231.6 L482,231.3 M588.5,233.5 L590,233.5" stroke-width="1.77"/>
<path d="M577.2,247.3 L741,282" stroke-width="1.42" stroke-dasharray="2 3"/>
<path d="M489,834.4 L495.5,829.6 L496.7,826.6 L502.1,819.4 L506.9,827.2 M489,834.4 L549.3,966.4 L556.5,959.2 M496.7,827.2 L556.5,959.2 M502.1,819.4 L561.3,948.5 L556.5,959.2"/>
<path d="M506.9,827.2 L528.4,815.8 V801.5 H538.5 L546.3,796.7 L745.7,825.1 L753.3,832.7 L763.5,834.6 L764.7,842.2 L760.9,848.6 L763.5,860 L772.4,862.5 L774.9,870.8"/>
<path d="M539.1,805.1 L762.2,838.4"/>
<path d="M510,833 L530.2,860.1 L557.7,919.2 L653.7,925 L708.9,894.3 M530.2,860.1 L587.5,827.2 L687.3,839.7 L689.8,842.2 L708.9,894.3 M532,863 L589,831 L684.8,843.5 L706.3,895.5"/>
<path d="M515.5,843 C514,848 516,852 522,853 C528,852 560,836 580,826 C585,822 584,817 578,815 C572,814 560,818 545,826 C530,834 518,839 515.5,843 Z" stroke-width="2.01"/>
<path d="M526.6,849.3 L531,833 M527,850 C545,843 562,834 569,827 C572,824 571,820 567,820 C560,821 545,829 531,836" stroke-width="1.89"/>
<path d="M546,833 L556,828 L558,834 L548,839 Z M548,837 L557,829" stroke-width="1.65"/>
<path d="M691.1,841 C695,836 705,834 718,834.5 C724,835 727,837 727.9,838.4 L743.2,880.3 M699,848 L713,884.5 C716,888 724,889 732,887.5 L740,886" stroke-width="2.01"/>
<path d="M700,848 C699,842 702,840 707,840 C711,840 713,842 714,845 L731,881 C732,884 729,886 725,886 C718,886 715,884 713,880 Z" stroke-width="1.89"/>
<path d="M706,855 L710,855 L713,862 L709,863 Z M711,843 L727,883 M721,875 L718,885 M722,874 L731,883" stroke-width="1.65"/>
<path d="M774.9,870.8 L782.5,874.6 L781.5,878 L620,970.5 L616.4,968.7 M773.6,871.4 L616.4,962 M759.7,869.5 C755,868 750,869 745,872 L706.3,891 L617,940" stroke-width="2.12"/>
<path d="M708.9,894.3 L714,896 M621,945 L628,946" stroke-width="1.77"/>
<path d="M562.4,931.8 C561,927 565,924.5 570,924.5 L626,926 C631,927 634,931 634.1,935.3 C632,939 627,941.5 620,941.5 L573,940 C567,939 563,936 562.4,931.8 Z" stroke-width="2.01"/>
<path d="M568,932 L571.5,928 L573,937 Z M628,931 L631.5,935 L628.5,939" stroke-width="1.65"/>
<path d="M549.3,966.4 H572 L578,959.2 H597.1 L603.1,970 H615 L616.4,968.7 M559,945 L562,927 M607.5,962 L607.5,948 L617,940"/>
<path d="M584.6,892.9 H613.2 V909 H584.6 Z M586,897 H596 M600,897 H611" stroke-width="2.12"/>
<circle cx="591.7" cy="905" r="3.8" stroke-width="1.89"/><circle cx="604.9" cy="905" r="3.8" stroke-width="1.89"/>
<path d="M591.7,909 V911.5 M604.9,909 V911.5 M591.7,915 V922.2" stroke-width="2.12"/>
<path d="M622.4,697 L626,691.2 L630,690.8 L633.5,697 L640,707.5 L640.3,715 L636.5,717.8 L633,718 L624,703 Z M624,703 C625,702 627,701.8 628,703 M633,718 L633,714 C634,712 637,711 640,710.5" stroke-width="2.01"/>
<path d="M614.9,749 C614,746 616,744 619,743 L636,739 C640,738 643,739 644,741.5 L644.8,746 C644,749.5 641,751 638,751.5 L623,755 C621,757 619.5,759.5 617,759.6 C615,759.4 614,757 615,754 Z M623,744 L628,753 M636,745 C638,743.5 640,744 641,746 M626.5,755.5 V758.5 M636.5,752 V755" stroke-width="1.89"/>
<path d="M641.8,714.8 L709,762 L661.9,853.6 L689.2,856.2" stroke-width="1.89" stroke-dasharray="10 5"/>
<path d="M625.3,759.6 L552.1,828.3" stroke-width="1.89" stroke-dasharray="10 5"/>
<path d="M313.4,1034.4 L347.7,1019.4 M314.9,1046.3 L349.2,1031.4 M313.4,1034.4 C310,1036 309,1042 314.9,1046.3 M347.7,1019.4 C352,1019 353,1028 349.2,1031.4" stroke-width="2.12"/>
<path d="M307.4,1037.3 C304,1041 304,1048 308,1051 L311.9,1050.8 M344.7,1017.2 C349,1015 355,1016 356.7,1020.9 C357,1024 356,1026 355.2,1026.9" stroke-width="1.89"/>
<path d="M317.0,1033.0 C316.5,1037.0 317.5,1042.0 318.5,1044.5" stroke-width="1.65"/>
<path d="M320.6,1031.4 C320.1,1035.4 321.1,1040.4 322.1,1042.9" stroke-width="1.65"/>
<path d="M324.2,1029.8 C323.7,1033.8 324.7,1038.8 325.7,1041.3" stroke-width="1.65"/>
<path d="M327.8,1028.2 C327.3,1032.2 328.3,1037.2 329.3,1039.7" stroke-width="1.65"/>
<path d="M331.4,1026.6 C330.9,1030.6 331.9,1035.6 332.9,1038.1" stroke-width="1.65"/>
<path d="M335.0,1025.0 C334.5,1029.0 335.5,1034.0 336.5,1036.5" stroke-width="1.65"/>
<path d="M338.6,1023.4 C338.1,1027.4 339.1,1032.4 340.1,1034.9" stroke-width="1.65"/>
<path d="M342.2,1021.8 C341.7,1025.8 342.7,1030.8 343.7,1033.3" stroke-width="1.65"/>
<path d="M345.8,1020.2 C345.3,1024.2 346.3,1029.2 347.3,1031.7" stroke-width="1.65"/>
<path d="M314.9,1133.7 L453.8,1053.8 L471.7,1047 L475.4,1048.5 V1064.2 L473.2,1064.2 L469.5,1061.2 L464.2,1062 V1068.7 L297,1164.3 L294,1162.1 L293.2,1152.4 L300.7,1149.4 V1143.4 L311.1,1137.4 Z"/>
<path d="M317.1,1134.4 L455.3,1056 L471.7,1047 M455.3,1056 L464.2,1056.2 M300.7,1149.4 L311.1,1143.4 C312,1138 313,1135 316,1134 M298,1157 C300,1155 303,1156 305,1157" stroke-width="1.77"/>
<path d="M321.5,1141.5 L351,1124.5 C352.5,1123.5 354,1124.5 354,1125.5 V1128 L348,1131 M321.5,1141.5 C320,1143 320,1144.5 322,1145 M331,1130 L343,1124 M349,1116 L395,1090 M354.5,1116.5 L359.5,1114 C361,1116 363,1116 368,1113 L372,1110.5 C374,1108 376,1106.5 377.5,1105 M375,1106 L377,1108.5 M406,1085 L452,1058" stroke-width="1.77"/>
<path d="M457.4,1019.3 L461.5,1017.7 L474.7,1012.3 L482.9,1010.3 H505.9 L511.2,1013.1 L511.6,1017.7 L504.2,1023.4 L496,1021 L477.1,1023 L468.1,1026.3 H460.7 L457.4,1024.7 Z M461.5,1020.5 L475.5,1014.8 M468.1,1026.3 V1021.5 M491,1016 L503,1018 M503,1018 L504,1022" stroke-width="2.01"/>
<circle cx="471.8" cy="1029.4" r="3.3" stroke-width="1.89"/><circle cx="483.3" cy="1015.6" r="1.5" class="f"/>
<path d="M489.4,1025.5 C489,1029 491,1030 493.6,1030 C496,1030 497.7,1029 497.7,1025.5" stroke-width="1.89"/>
<path d="M484.5,1096.1 L492.7,1094.5 L510.8,1100.7 L540.4,1098.2 L545.3,1101.9 V1106.4 L532.2,1110.5 L515.7,1111.3 L499.3,1108.5 L484.5,1102.3 Z M488,1098 L497,1101.5 M505,1104 L518,1106.5 M527,1106 L541,1103 M510.8,1100.7 L511,1103" stroke-width="2.01"/>
<path d="M492.5,1111 C492,1115 494,1116.5 496,1116.5 C498,1116.5 500,1115 500,1109" stroke-width="1.89"/><circle cx="527.2" cy="1115" r="3.2" stroke-width="1.89"/>
<path d="M681.5,1101.6 L689.1,1097.5 L691.4,1098.4 L697.2,1108.3 L697.4,1124 L694,1132.5 L693.2,1133.6 H688.7 L687.8,1138.8 H682.4 L681.5,1133.8 H678.4 V1128.5 L682.8,1124.4 L685.5,1118.2 V1109.6 L682.4,1105.6 Z M678.4,1128.5 H694 M680,1131 H692" stroke-width="2.01"/>
<circle cx="692.3" cy="1113.7" r="2.2" class="f"/>
<path d="M507.9,1114.5 V1386" stroke-width="2.01" stroke-dasharray="22 5 3 5"/>
<path d="M686.9,1145 V1258" stroke-width="2.01" stroke-dasharray="22 5 3 5"/>
<path d="M230.0,1426.7 L456.0,1557.2 M213.8,1431.7 L317.6,1491.6 M322.0,1494.1 L506.9,1600.9 M197.3,1434.3 L269.8,1475.9 M276.5,1479.7 L506.9,1611.8 M182.4,1445.7 L492.6,1624.6 M172.7,1445.3 L488.0,1625.6"/>
<path d="M172.7,1437.5 L184,1429 L187,1431 L196,1426.5 M172.7,1437.5 V1444.8 M488.0,1625.6 L496,1629 H505.1 L516.5,1622.8 M492.6,1624.6 L494,1626 H504 L515,1620"/>
<path d="M191,1442 L196,1440 L199.5,1443 L194.5,1446 Z M474,1606 L479,1604 L482,1607 L477,1610 Z M492,1619 L497,1617 L500,1620 L495,1623 Z" stroke-width="1.77"/>
<path d="M287,1470 L290,1468.5 L292,1471 L289,1472.5 Z M395,1532 L398,1530.5 L400,1533 L397,1534.5 Z" stroke-width="1.65"/>
<path d="M515.3,1601.3 V1622.8 M512,1602 H515.3 M518.9,1598.9 C522,1597.5 526,1599 527.2,1602.4 M528.4,1608.4 V1622.8"/>
<path d="M534.4,1598.9 L628,1545.6 M638.5,1539.1 L730,1486.8 M743,1479 L821.8,1432.9 M528.4,1622.8 L821.8,1454.2 M821.8,1432.9 V1454.2"/>
<path d="M551,1539.1 L711.7,1450.2"/>
<path d="M520,1566 L713,1455" stroke-width="3.54"/>
<path d="M821.8,1432.9 L801.9,1423 M821.8,1432.9 L838.8,1424.4 V1438.6 L823.2,1447.1 M801.9,1423 L838.8,1424.4" stroke-width="2.12"/>
<path d="M735.2,1366.2 L801.9,1404.5 L838.8,1424.4"/>
<circle cx="808" cy="1414" r="1.8" class="f"/>
<path d="M167.7,1335.9 L202.6,1315.3 L203.8,1314.1 V1321 L235.5,1303.8 V1297.3 L394.8,1204.8 V1213.4 L426.4,1193.7 V1186.3 L460.5,1166.6 V1175.2 L464.6,1178.1 L479.4,1186.3 V1228.2"/>
<path d="M176.3,1344.9 L259.2,1297.8 M266.2,1294 L368.4,1234.3 M376,1230.5 L464.6,1178.1"/>
<path d="M191.1,1352.3 L315,1280.6 M325.2,1274.3 L477.4,1186.3"/>
<path d="M192.3,1390.1 L476.5,1230.3"/>
<path d="M167.7,1335.9 V1347.4 L182.5,1356 V1357.2 L177.9,1358.9 L177.1,1370.4 L169.7,1368.3 V1353.1 L157.8,1360.1 V1390.1 L167.7,1388.5 L182,1396.7 V1410 M186.2,1398.3 L193.5,1403.3 L199.3,1395.9 M160.5,1362 V1372 M160.5,1382 V1388" stroke-width="2.12"/>
<path d="M199,1354 C195,1355 194,1360 196,1363 L203,1371 C206,1375 212,1376 216,1374 C219,1372 219,1368 217,1365 L207,1356 C205,1354 202,1353 199,1354 Z" stroke-width="1.89"/>
<path d="M251.5,1339 C249,1336 244,1337 242,1341 C240,1345 241,1350 245,1351 C247,1351.5 249,1350.5 250.5,1349 M438,1231 C436,1228.5 431.5,1229 430,1232 C428.5,1235.5 429,1239 432,1240 C434,1240.5 436,1239.5 437,1238" stroke-width="1.89"/>
<path d="M448,1232 L460,1207 C462,1204 467,1203.5 467.5,1207 L455,1234 C453,1237 448,1236 448,1232 Z" stroke-width="1.89"/>
<circle cx="183.1" cy="1333.7" r="2.2" class="f"/><circle cx="197.4" cy="1326" r="2.2" class="f"/><circle cx="435.9" cy="1188.3" r="2.2" class="f"/><circle cx="449.4" cy="1179.3" r="2.2" class="f"/>
<path d="M182,1410 V1428 M204.2,1396.7 V1415 M208.3,1398 V1415 M182,1410 L205,1422 M185,1419 L200,1426"/>
<path d="M204.6,1397.4 L292.2,1335.2 L335,1310 M207,1399 L292,1340 M211,1400 L294,1343 M214,1401.5 L336,1322" stroke-width="1.65"/>
<path d="M208,1405 L434.4,1281.9 M335.4,1320 L353.1,1289.5 L373.5,1276.8 L391.2,1279.4 L386,1283 L370,1290 M340,1317 L432,1273 L440,1276 L446,1281"/>
<path d="M433,1274 L445,1268 L455.8,1269.7" stroke-width="1.89"/>
<path d="M256.7,1410.7 L268.7,1402.3 L271.1,1395.2 L278.2,1392.8 L299.8,1382 V1378.5 L323.7,1365.3 L345.2,1374.8 L364.3,1364.1 V1340.2 L376.2,1334.2 L390.6,1336.6 L400.1,1334.2 L390.6,1328.2 L431.2,1309.1 L445.5,1304.3"/>
<path d="M256.7,1410.7 V1423.8 M261.5,1420.3 V1433.4 L458,1548 M262.7,1420.3 L458,1533 M256.7,1410.7 L261.5,1420.3"/>
<path d="M312.9,1409.5 L445.5,1334.2 M312.9,1409.5 L366.7,1440.6 M412.1,1465.7 L445.5,1484.8 H467 M523.2,1484.8 H550.7 M445.5,1334.2 L446.5,1333.7"/>
<path d="M354.3,1470.8 L365.7,1465.1 L371.3,1445.3 C372,1441.5 374,1440 375.6,1440 C378,1440 380,1442 379.9,1446 L378.4,1465.1 L391.2,1473.6 L394,1479.3 L385.5,1485 L388.4,1490.7 L408.2,1487.8 L411.1,1483.6" stroke-width="5.43"/>
<path d="M354.3,1470.8 L365.7,1465.1 L371.3,1445.3 C372,1441.5 374,1440 375.6,1440 C378,1440 380,1442 379.9,1446 L378.4,1465.1 L391.2,1473.6 L394,1479.3 L385.5,1485 L388.4,1490.7 L408.2,1487.8 L411.1,1483.6" stroke="#fff" stroke-width="1.89"/>
<path d="M477,1229.9 L526,1232.3 L533.2,1239.4 L679,1262.1 L682.6,1261 L702.9,1288.4 L718.4,1293.2 M469.9,1239.4 L477,1229.9 M469.9,1239.4 V1262.1 L456.7,1269.3"/>
<path d="M473.5,1271.7 C474,1262 490,1257 511.7,1257.4 L667.1,1281.3 C674,1283 678,1289 677.8,1295.6 L681,1306 L686.5,1304 M681,1306 L511.7,1388.2 C495,1390 482,1384 478.2,1372.1 L473.5,1271.7"/>
<path d="M478,1272 C480,1265 494,1261 512,1261.5 L665,1285 C671,1287 674,1292 674,1297 L676,1309 M480,1290 L490,1284 L495,1286 L502,1282 L600,1322 L612,1330" stroke-width="1.77"/>
<path d="M476,1310 L499,1302 L588,1350 M520,1264 L636.8,1328.9 M527,1264 L640,1326 M560,1268 L655.6,1318.1 M496,1284 L516.5,1282.5 L612.1,1338.6" stroke-width="1.77"/>
<circle cx="502" cy="1248" r="2.5" stroke-width="1.65"/><circle cx="478" cy="1260" r="2" stroke-width="1.65"/><circle cx="681" cy="1281" r="2" stroke-width="1.65"/><circle cx="682" cy="1301" r="2" class="f"/><circle cx="599" cy="1303" r="1.8" class="f"/>
<path d="M548.1,1385.3 L592.4,1364.5 M598.5,1361.7 L606,1358.2 M612.6,1353.8 L679.8,1321.5 M584.4,1386 C582,1388 581.5,1391 581.7,1394.1 M584.4,1386 L632.7,1365.9 L642.2,1371.9 L655.6,1365.9 L691.9,1346.4 M585.7,1398.1 L586,1392 L633,1371.5 M589,1389 L596,1386 M601,1384 L628,1372.5" />
<path d="M684.8,1266.2 L718.9,1293.1 M719.6,1298.1 L735.2,1366.2 L745,1390 L762.2,1428.7 L775,1440 M687,1313.7 L684.8,1327.9 L709.7,1371.9 L739.5,1438.6 M718.4,1293.2 L686,1312 M719.6,1298.1 L688,1314"/>
<path d="M700,1335 L730,1370 M716,1375 L732,1420 M719,1374 L734,1415 M744,1372 L790,1397 M748,1382 L780,1400 M754,1386 L772,1423 L800,1418 M742,1390 L800,1422" stroke-width="1.77"/>
<path d="M474.5,1375 L483.3,1469 M479.2,1442 L458.9,1556.9 M482,1469 L460.3,1550.2 M474.5,1375 L506,1390.6 L547,1377 M547,1377 L544.2,1387.9 L518.5,1470.4 L515.8,1563.7"/>
<path d="M458.9,1556.9 L495.5,1574.5 L505,1566.4 L515.8,1564.4 L522.5,1580 L506.3,1588.7 L458.9,1556.9"/>
<path d="M480.6,1387.9 L497,1399 M513,1398 L543,1386 M493.5,1400 L483.3,1469 M514.5,1402 L516,1462 M483.3,1469 L517.8,1471.7" stroke-width="2.01"/>
<path d="M446.3,1293.2 L448.2,1364.4 C452,1367 456,1369 460.3,1372.7 L472.4,1381.8 M455.8,1271.2 L458,1345.5 L459.5,1370.5 M430,1280.3 H433 L446.3,1293.2 M456.7,1269.3 L455.8,1271.2"/>
<path d="M461,1270.5 L467.1,1362.1 C468.5,1366 470,1368 472.4,1369 L483,1375" stroke-width="2.01" stroke-dasharray="12 3"/>
<ellipse cx="500.5" cy="1460.2" rx="4.5" ry="2.5" stroke-width="1.89"/>
<path d="M536.6,1418.9 L530,1468.5 L551,1484.2 M536.6,1418.9 L580,1401 M698.6,1437.2 L711.7,1398 L660,1366.2 M698.6,1437.2 L713.9,1447.1"/>
<path d="M520,1532.5 H538 L550,1540.3 V1544 M520,1538.5 H536.8 L550,1546" stroke-width="1.89"/>
<path d="M175.5,1562 V1503 C175.5,1497 186.9,1497 186.9,1503 V1562" />
<path d="M158.5,1557 C158.5,1551 169,1547.4 180.5,1547.4 C192,1547.4 202.5,1551 202.5,1557 V1568 C202.5,1574 192,1578.6 180.5,1578.6 C169,1578.6 158.5,1574 158.5,1568 Z M158.5,1558 C159,1564 169,1567.3 180.5,1567.3 C192,1567.3 202,1564 202.5,1558"/>
<ellipse cx="180.5" cy="1558.5" rx="11" ry="4.5" stroke-width="1.77"/>
<path d="M180.6,1433.9 V1496.3 M181,1510 V1540" stroke-width="1.89"/>
<path d="M120,1485 L140,1495 M116,1491 C114,1488 116,1484 120,1485 M116,1491 L137,1503 C140,1505 145,1503 145.5,1500 L145,1496 C144,1493 142,1493 140,1495 L139,1502" />
<path d="M145.4,1500 L195.4,1527.6" stroke-width="1.89"/><path d="M198,1530 L203.9,1536.1" stroke-width="1.89" stroke-dasharray="3 3"/>
<path d="M826.5,1399.7 V1401.5 M826.5,1405 V1484 M826.5,1512.5 V1544" stroke-width="2.12"/>
<path d="M815.3,1488 C815.3,1483.5 834.2,1483.5 834.2,1488 V1508 C834.2,1513.5 815.3,1513.5 815.3,1508 Z M815.3,1488.5 C817,1491.5 832,1491.5 834.2,1488.5 M821,1492 V1507 M829,1492 V1507 M821,1499 H829" stroke-width="2.01"/>
<path d="M820.5,1590 V1553 C820.5,1549.5 823,1548.4 825.2,1548.4 C827.5,1548.4 830,1549.5 830,1553 V1590" stroke-width="1.89"/>
<path d="M822.5,1556 V1588 M828,1556 V1588" stroke-width="1.30" stroke-dasharray="1.5 1.5"/>
<path d="M806.2,1599 C806.2,1593 815,1589.5 824.7,1589.5 C834.5,1589.5 843.2,1593 843.2,1599 V1606 C843.2,1613 834.5,1617.4 824.7,1617.4 C815,1617.4 806.2,1613 806.2,1606 Z M807,1602 C809,1606 817,1608.5 824.7,1608.5 C833,1608.5 841,1606 842.5,1601" stroke-width="2.01"/>
<ellipse cx="825" cy="1599.5" rx="7.5" ry="3.6" stroke-width="1.77"/>
<path d="M56.9,1358.5 L224.2,1262.1 V1247.9 L219.7,1239 L210.7,1243.4 L212.2,1249.4 L215.2,1252.4 M210.7,1246.5 L65.8,1330.1 L57.6,1342 H50.9 L36.7,1351 V1368.9 L46.4,1363.7 L47.2,1357 L50.9,1354.7 L56.9,1358.5"/>
<path d="M64.4,1333.5 L209.2,1250.2 M215.2,1252.4 L224.2,1248" stroke-width="1.77"/>
<path d="M138.3,1303.2 V1297.5 L146,1294 L154,1295.7 L151.5,1299 L140,1303.5 M155.5,1291 L160,1287.5 L170.4,1285.3 M160,1290 L165,1288.5 M176.4,1282.3 V1277 L186.8,1274.8 M180,1279 L186,1277.5 M188.3,1271 L207.7,1259.5 V1258.4 L192,1266 M194,1273.3 L206.8,1266" stroke-width="1.89"/>
<path d="M42,1355 L44,1353.5" stroke-width="1.89"/>
</svg>
</body></html>
